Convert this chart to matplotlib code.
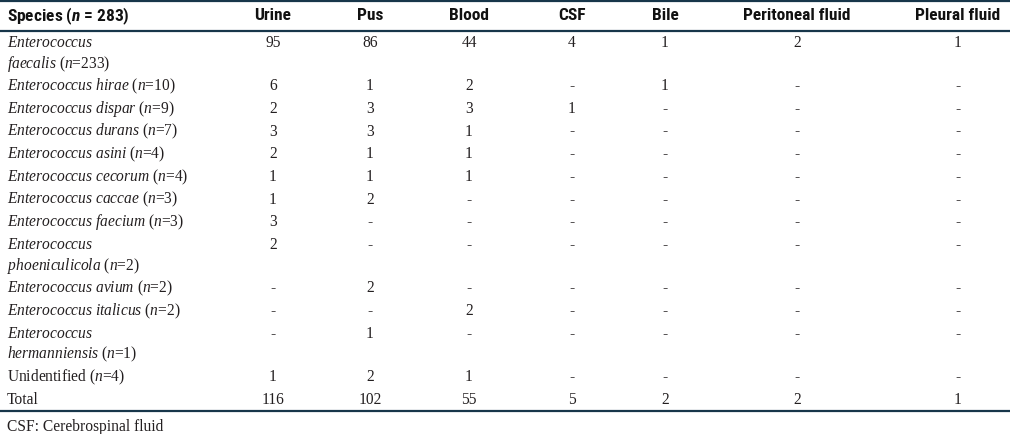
import matplotlib.pyplot as plt

# table content
columns = ["Urine", "Pus", "Blood", "CSF", "Bile", "Peritoneal fluid", "Pleural fluid"]
species = [
    ["Enterococcus", "faecalis"],
    ["Enterococcus hirae"],
    ["Enterococcus dispar"],
    ["Enterococcus durans"],
    ["Enterococcus asini"],
    ["Enterococcus cecorum"],
    ["Enterococcus caccae"],
    ["Enterococcus faecium"],
    ["Enterococcus", "phoeniculicola"],
    ["Enterococcus avium"],
    ["Enterococcus italicus"],
    ["Enterococcus", "hermanniensis"],
    ["Unidentified"],
]
n_values = [233, 10, 9, 7, 4, 4, 3, 3, 2, 2, 2, 1, 4]
urine = [95, 6, 2, 3, 2, 1, 1, 3, 2, None, None, None, 1]
pus = [86, 1, 3, 3, 1, 1, 2, None, None, 2, None, 1, 2]
blood = [44, 2, 3, 1, 1, 1, None, None, None, None, 2, None, 1]
csf = [4, None, 1, None, None, None, None, None, None, None, None, None, None]
bile = [1, 1, None, None, None, None, None, None, None, None, None, None, None]
peritoneal = [2, None, None, None, None, None, None, None, None, None, None, None, None]
pleural = [1, None, None, None, None, None, None, None, None, None, None, None, None]
totals = [116, 102, 55, 5, 2, 2, 1]
total_n = 283
footnote = "CSF: Cerebrospinal fluid"

series = [urine, pus, blood, csf, bile, peritoneal, pleural]

head_font = "Roboto Condensed"
body_font = "Liberation Serif"

plt.rcParams["mathtext.fontset"] = "custom"
plt.rcParams["mathtext.rm"] = body_font
plt.rcParams["mathtext.it"] = body_font + ":italic"
plt.rcParams["mathtext.sf"] = head_font + ":bold:italic"

fig = plt.figure(figsize=(10.1, 4.34), dpi=100)
ax = fig.add_axes([0, 0, 1, 1])
ax.set_xlim(0, 1010)
ax.set_ylim(434, 0)
ax.axis("off")

line_col = "#17364a"
txt_col = "#231f20"
col_x = [273, 370, 469, 572, 665, 797, 958]
left_x = 7
fs_body = 11.2
fs_head = 12.5

# header
ax.plot([0, 1010], [1, 1], color=line_col, lw=1.6)
ax.plot([0, 1010], [31, 31], color=line_col, lw=1.6)
ax.text(left_x, 16, r"Species ($\mathsf{n}$ = %d)" % total_n, fontfamily=head_font,
        fontweight="bold", fontsize=fs_head, va="center", ha="left", color="#111111")
for x, c in zip(col_x, columns):
    ax.text(x, 16, c, fontfamily=head_font, fontweight="bold", fontsize=fs_head,
            va="center", ha="center", color="#111111")

# body rows
y = 43
step = 22.7
wrap = 20.5
for i, name in enumerate(species):
    lines = list(name)
    for k, part in enumerate(lines):
        yy = y + k * wrap
        if part == "Unidentified":
            s = r"Unidentified ($\mathit{n}$=%d)" % n_values[i]
        else:
            s = r"$\mathit{%s}$" % part.replace(" ", r"\ ")
            if k == len(lines) - 1:
                s += r" ($\mathit{n}$=%d)" % n_values[i]
        ax.text(left_x, yy, s, fontfamily=body_font, fontsize=fs_body,
                va="center", ha="left", color=txt_col)
    for x, ser in zip(col_x, series):
        v = ser[i]
        ax.text(x, y, "-" if v is None else str(v), fontfamily=body_font,
                fontsize=fs_body, va="center", ha="center", color=txt_col)
    y += step + (len(lines) - 1) * wrap

# total row
ax.text(left_x, y, "Total", fontfamily=body_font, fontsize=fs_body,
        va="center", ha="left", color=txt_col)
for x, t in zip(col_x, totals):
    ax.text(x, y, str(t), fontfamily=body_font, fontsize=fs_body,
            va="center", ha="center", color=txt_col)

ax.plot([0, 1010], [411, 411], color=line_col, lw=1.6)
ax.text(left_x, 427, footnote, fontfamily=body_font, fontsize=fs_body,
        va="center", ha="left", color=txt_col)

fig.savefig("out.png", dpi=100)
